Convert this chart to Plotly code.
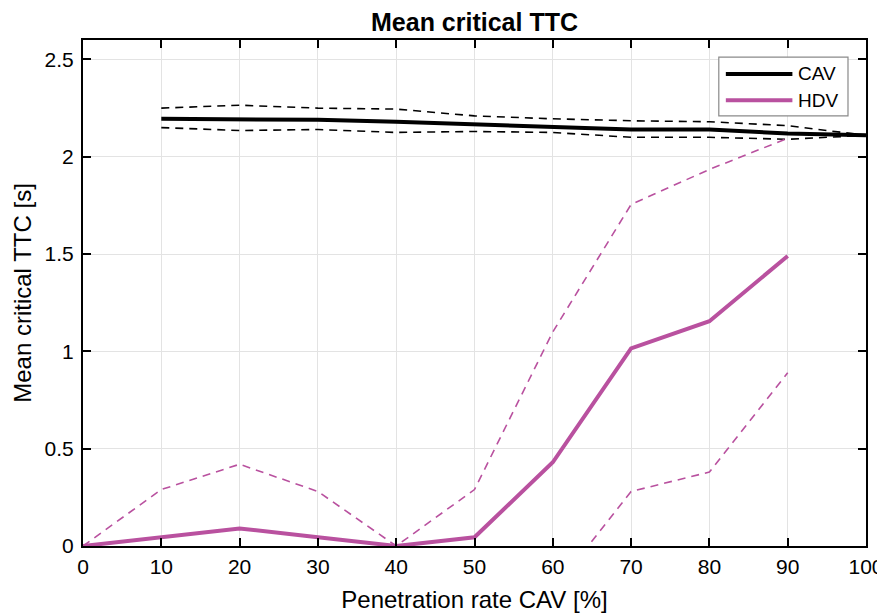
import plotly.graph_objects as go

# ---- data ----
penetration = [0, 10, 20, 30, 40, 50, 60, 70, 80, 90, 100]

cav_x = [10, 20, 30, 40, 50, 60, 70, 80, 90, 100]
cav_mean = [2.195, 2.195, 2.19, 2.18, 2.165, 2.155, 2.14, 2.14, 2.12, 2.11]
cav_upper = [2.25, 2.265, 2.25, 2.245, 2.21, 2.195, 2.185, 2.18, 2.16, 2.11]
cav_lower = [2.15, 2.135, 2.14, 2.125, 2.13, 2.125, 2.10, 2.10, 2.09, 2.11]

hdv_x = [0, 10, 20, 30, 40, 50, 60, 70, 80, 90]
hdv_mean = [0.0, 0.045, 0.09, 0.045, 0.0, 0.045, 0.43, 1.015, 1.155, 1.49]
hdv_upper = [0.0, 0.29, 0.42, 0.28, 0.0, 0.29, 1.1, 1.755, 1.935, 2.095]
hdv_lower = [0.0, -0.2, -0.24, -0.19, 0.0, -0.2, -0.23, 0.28, 0.38, 0.89]

x_ticks = [0, 10, 20, 30, 40, 50, 60, 70, 80, 90, 100]
y_ticks = [0, 0.5, 1, 1.5, 2, 2.5]
y_tick_labels = ["0", "0.5", "1", "1.5", "2", "2.5"]

CAV_COLOR = "#000000"
HDV_COLOR = "#B9519F"
FONT = "Liberation Sans, Arial, sans-serif"

# page is rendered with an 8px body margin; compensate in figure size
W, H = 877, 608

fig = go.Figure()

fig.add_trace(go.Scatter(x=cav_x, y=cav_upper, mode="lines",
                         line=dict(color=CAV_COLOR, width=1.6, dash="8px,6px"),
                         showlegend=False, hoverinfo="skip"))
fig.add_trace(go.Scatter(x=cav_x, y=cav_lower, mode="lines",
                         line=dict(color=CAV_COLOR, width=1.6, dash="8px,6px"),
                         showlegend=False, hoverinfo="skip"))
fig.add_trace(go.Scatter(x=hdv_x, y=hdv_upper, mode="lines",
                         line=dict(color=HDV_COLOR, width=1.6, dash="8px,6px"),
                         showlegend=False, hoverinfo="skip"))
fig.add_trace(go.Scatter(x=hdv_x, y=hdv_lower, mode="lines",
                         line=dict(color=HDV_COLOR, width=1.6, dash="8px,6px"),
                         showlegend=False, hoverinfo="skip"))
fig.add_trace(go.Scatter(x=cav_x, y=cav_mean, mode="lines", name="CAV",
                         line=dict(color=CAV_COLOR, width=4), showlegend=False))
fig.add_trace(go.Scatter(x=hdv_x, y=hdv_mean, mode="lines", name="HDV",
                         line=dict(color=HDV_COLOR, width=4), showlegend=False))

# ---- manual MATLAB-style legend ----
fig.add_shape(type="rect", xref="x domain", yref="y domain",
              x0=0.812, x1=0.977, y0=0.850, y1=0.966,
              line=dict(color="#8a8a8a", width=1.2), fillcolor="white", layer="above")
legend_items = [("CAV", CAV_COLOR, 0.933), ("HDV", HDV_COLOR, 0.881)]
for name, color, yy in legend_items:
    fig.add_shape(type="line", xref="x domain", yref="y domain",
                  x0=0.821, x1=0.906, y0=yy, y1=yy,
                  line=dict(color=color, width=4), layer="above")
    fig.add_annotation(xref="x domain", yref="y domain", x=0.911, y=yy,
                       text=name, showarrow=False, xanchor="left", yanchor="middle",
                       font=dict(family=FONT, size=19, color="black"))

axis_common = dict(
    showgrid=True, gridcolor="#e3e3e3", gridwidth=1,
    showline=True, linecolor="black", linewidth=2, mirror="ticks",
    ticks="inside", ticklen=8, tickwidth=2, tickcolor="black",
    zeroline=False, automargin=False,
    tickfont=dict(family=FONT, size=21, color="black"),
)

fig.update_xaxes(range=[0, 100], tickvals=x_ticks, ticklabelstandoff=1,
                 title=dict(text="Penetration rate CAV [%]", standoff=14,
                            font=dict(family=FONT, size=24, color="black")),
                 **axis_common)
fig.update_yaxes(range=[0, 2.6], tickvals=y_ticks, ticktext=y_tick_labels,
                 ticklabelstandoff=3,
                 title=dict(text="Mean critical TTC [s]", standoff=6,
                            font=dict(family=FONT, size=24, color="black")),
                 **axis_common)

fig.update_layout(
    width=W, height=H,
    margin=dict(l=75, r=19, t=32, b=70, pad=0),
    paper_bgcolor="white", plot_bgcolor="white",
    title=dict(text="<b>Mean critical TTC</b>", x=(474.5 - 8) / W, xanchor="center",
               y=1 - 14 / H, yanchor="middle", automargin=False,
               font=dict(family=FONT, size=25, color="black")),
    showlegend=False,
)

fig.write_html("out.html")
